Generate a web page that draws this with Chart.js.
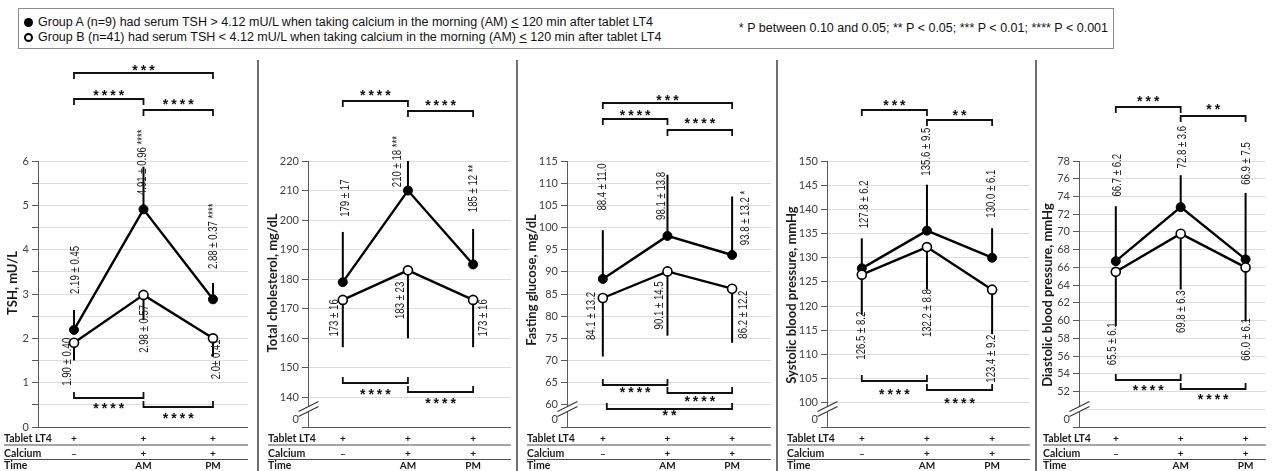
<!DOCTYPE html>
<html>
<head>
<meta charset="utf-8">
<script src="https://cdn.jsdelivr.net/npm/chart.js@4.4.1/dist/chart.umd.min.js"></script>
<style>
  body { margin: 0; width: 1272px; height: 471px; background: #fff; position: relative; overflow: hidden; font-family: "Liberation Sans", Arial, sans-serif; }
  #legend { position: absolute; left: 18px; top: 8px; width: 1096px; height: 41px; border: 1px solid #8c8c8c; box-sizing: border-box; color: #111; }
  #legend .g, #legend .key { position: absolute; font-size: 12.5px; line-height: 15px; white-space: nowrap; }
  #legend .g { left: 5px; }
  #legend .key { right: 5px; top: 12px; }
  .dot { display: inline-block; width: 9px; height: 9px; border-radius: 50%; box-sizing: border-box; margin-right: 5px; vertical-align: -1px; }
  .dot.fill { background: #000; }
  .dot.open { border: 2px solid #000; background: #fff; }
  .sep { position: absolute; top: 60px; height: 411px; width: 2px; background: #707070; z-index: 2; }
  canvas { position: absolute; top: 52px; }
</style>
</head>
<body>
<div id="legend">
  <div class="g" style="top:6px"><span class="dot fill"></span>Group A (n=9) had serum TSH &gt; 4.12 mU/L when taking calcium in the morning (AM) <u>&lt;</u> 120 min after tablet LT4</div>
  <div class="g" style="top:21px"><span class="dot open"></span>Group B (n=41) had serum TSH &lt; 4.12 mU/L when taking calcium in the morning (AM) <u>&lt;</u> 120 min after tablet LT4</div>
  <div class="key">* P between 0.10 and 0.05; ** P &lt; 0.05; *** P &lt; 0.01; **** P &lt; 0.001</div>
</div>
<div class="sep" style="left:257px"></div>
<div class="sep" style="left:516px"></div>
<div class="sep" style="left:776px"></div>
<div class="sep" style="left:1035px"></div>
<canvas id="p1" width="258" height="419" style="left:0px"></canvas>
<canvas id="p2" width="259" height="419" style="left:258px"></canvas>
<canvas id="p3" width="260" height="419" style="left:517px"></canvas>
<canvas id="p4" width="259" height="419" style="left:777px"></canvas>
<canvas id="p5" width="236" height="419" style="left:1036px"></canvas>
<script>
// table under each panel
const tableRows = ['Tablet LT4', 'Calcium', 'Time'];
const tabletLT4 = ['+', '+', '+'];
const calcium = ['\u2013', '+', '+'];
const times = ['', 'AM', 'PM'];

const yTitles = ['TSH, mU/L', 'Total cholesterol, mg/dL', 'Fasting glucose, mg/dL',
  'Systolic blood pressure, mmHg', 'Diastolic blood pressure, mmHg'];

// mean and SD, group A (filled) and group B (open)
const tshA = [2.19, 4.91, 2.88], tshSdA = [0.45, 0.96, 0.37];
const tshB = [1.90, 2.98, 2.0], tshSdB = [0.40, 0.57, 0.41];
const cholA = [179, 210, 185], cholSdA = [17, 18, 12];
const cholB = [173, 183, 173], cholSdB = [16, 23, 16];
const gluA = [88.4, 98.1, 93.8], gluSdA = [11.0, 13.8, 13.2];
const gluB = [84.1, 90.1, 86.2], gluSdB = [13.2, 14.5, 12.2];
const sbpA = [127.8, 135.6, 130.0], sbpSdA = [6.2, 9.5, 6.1];
const sbpB = [126.5, 132.2, 123.4], sbpSdB = [8.2, 8.8, 9.2];
const dbpA = [66.7, 72.8, 66.9], dbpSdA = [6.2, 3.6, 7.5];
const dbpB = [65.5, 69.8, 66.0], dbpSdB = [6.1, 6.3, 6.1];

// value labels as printed
const tshTxtA = ['2.19 \u00b1 0.45', '4.91 \u00b1 0.96 ****', '2.88 \u00b1 0.37 ****'];
const tshTxtB = ['1.90 \u00b1 0.40', '2.98 \u00b1 0.57', '2.0\u00b1 0.41'];
const cholTxtA = ['179 \u00b1 17', '210 \u00b1 18 ***', '185 \u00b1 12 **'];
const cholTxtB = ['173 \u00b1 16', '183 \u00b1 23', '173 \u00b1 16'];
const gluTxtA = ['88.4 \u00b1 11.0', '98.1 \u00b1 13.8', '93.8 \u00b1 13.2 *'];
const gluTxtB = ['84.1 \u00b1 13.2', '90.1 \u00b1 14.5', '86.2 \u00b1 12.2'];
const sbpTxtA = ['127.8 \u00b1 6.2', '135.6 \u00b1 9.5', '130.0 \u00b1 6.1'];
const sbpTxtB = ['126.5 \u00b1 8.2', '132.2 \u00b1 8.8', '123.4 \u00b1 9.2'];
const dbpTxtA = ['66.7 \u00b1 6.2', '72.8 \u00b1 3.6', '66.9 \u00b1 7.5'];
const dbpTxtB = ['65.5 \u00b1 6.1', '69.8 \u00b1 6.3', '66.0 \u00b1 6.1'];

// y axes: [min, max, step, first labelled tick, label step]
const tshAxis = [0, 6, 0.5, 0, 1];
const cholAxis = [130, 220, 10, 140, 10];
const gluAxis = [55, 115, 5, 60, 5];
const sbpAxis = [95, 150, 5, 100, 5];
const dbpAxis = [48, 78, 2, 52, 2];

// significance brackets [from, to, stars]
const tshTop = [[0, 2, '***'], [0, 1, '****'], [1, 2, '****']];
const tshBottom = [[0, 1, '****'], [1, 2, '****']];
const cholTop = [[0, 1, '****'], [1, 2, '****']];
const cholBottom = [[0, 1, '****'], [1, 2, '****']];
const gluTop = [[0, 2, '***'], [0, 1, '****'], [1, 2, '****']];
const gluBottom = [[0, 1, '****'], [1, 2, '****'], [0, 2, '**']];
const sbpTop = [[0, 1, '***'], [1, 2, '**']];
const sbpBottom = [[0, 1, '****'], [1, 2, '****']];
const dbpTop = [[0, 1, '***'], [1, 2, '**']];
const dbpBottom = [[0, 1, '****'], [1, 2, '****']];

const canvasTop = 52;

const panels = [
  { id: 'p1', left: 0, axisW: 38, padR: 10, xMin: -0.518, xMax: 2.504, broken: false, tableX: 4,
    title: yTitles[0], titlePos: [13, 283], axis: tshAxis,
    mA: tshA, sA: tshSdA, mB: tshB, sB: tshSdB, tA: tshTxtA, tB: tshTxtB,
    offA: [[2, -60], [-1, -47], [1, -63]], offB: [[-6, 19], [1, 34], [4, 21]],
    top: tshTop, topY: [[73, 68], [99, 93], [110, 102]],
    bottom: tshBottom, botY: [[398, 406], [407, 416]] },
  { id: 'p2', left: 258, axisW: 50, padR: 5, xMin: -0.534, xMax: 2.58, broken: true, tableX: 268,
    title: yTitles[1], titlePos: [273, 283], axis: cholAxis,
    mA: cholA, sA: cholSdA, mB: cholB, sB: cholSdB, tA: cholTxtA, tB: cholTxtB,
    offA: [[3, -84], [-10, -29], [1, -76]], offB: [[-8, 18], [-7, 30], [11, 18]],
    top: cholTop, topY: [[101, 93], [111, 103]],
    bottom: cholBottom, botY: [[383, 392], [392, 401]] },
  { id: 'p3', left: 517, axisW: 50, padR: 5, xMin: -0.554, xMax: 2.6, broken: true, tableX: 527,
    title: yTitles[2], titlePos: [532, 280], axis: gluAxis,
    mA: gluA, sA: gluSdA, mB: gluB, sB: gluSdB, tA: gluTxtA, tB: gluTxtB,
    offA: [[0, -92], [-6, -40], [14, -37]], offB: [[-11, 18], [-8, 34], [12, 26]],
    top: gluTop, topY: [[103, 98], [119, 113], [130, 121]],
    bottom: gluBottom, botY: [[385, 390], [393, 399], [409, 413]] },
  { id: 'p4', left: 777, axisW: 50, padR: 5, xMin: -0.534, xMax: 2.58, broken: true, tableX: 787,
    title: yTitles[3], titlePos: [792, 295], axis: sbpAxis,
    mA: sbpA, sA: sbpSdA, mB: sbpB, sB: sbpSdB, tA: sbpTxtA, tB: sbpTxtB,
    offA: [[3, -64], [0, -79], [0, -64]], offB: [[0, 61], [1, 66], [0, 69]],
    top: sbpTop, topY: [[110, 103], [120, 113]],
    bottom: sbpBottom, botY: [[381, 392], [390, 401]] },
  { id: 'p5', left: 1036, axisW: 43, padR: 0, xMin: -0.567, xMax: 2.313, broken: true, tableX: 1043,
    title: yTitles[4], titlePos: [1048, 295], axis: dbpAxis,
    mA: dbpA, sA: dbpSdA, mB: dbpB, sB: dbpSdB, tA: dbpTxtA, tB: dbpTxtB,
    offA: [[2, -86], [2, -60], [1, -96]], offB: [[-3, 72], [1, 78], [1, 72]],
    top: dbpTop, topY: [[107, 99], [116, 107]],
    bottom: dbpBottom, botY: [[380, 388], [389, 397]] }
];

function line(ctx, x1, y1, x2, y2) {
  ctx.beginPath(); ctx.moveTo(x1, y1); ctx.lineTo(x2, y2); ctx.stroke();
}

function stars(ctx, text, x, y) {
  ctx.save();
  ctx.font = 'bold 14px "Liberation Sans"';
  ctx.letterSpacing = '3px';
  ctx.textAlign = 'center';
  ctx.textBaseline = 'alphabetic';
  ctx.fillStyle = '#111';
  ctx.fillText(text, x + 1.5, y + 7);
  ctx.restore();
}

const annotations = {
  id: 'annotations',
  beforeDatasetsDraw(chart) {
    const p = chart.canvas.panel;
    const { ctx, chartArea: a, scales: { x, y } } = chart;
    ctx.save();
    ctx.beginPath();
    ctx.rect(a.left, a.top, a.right - a.left, a.bottom - a.top);
    ctx.clip();
    ctx.strokeStyle = '#000';
    ctx.lineWidth = 2;
    p.mA.forEach((m, i) => {
      const px = x.getPixelForValue(i);
      line(ctx, px, y.getPixelForValue(m), px, y.getPixelForValue(m + p.sA[i]));
    });
    p.mB.forEach((m, i) => {
      const px = x.getPixelForValue(i);
      line(ctx, px, y.getPixelForValue(m), px, y.getPixelForValue(m - p.sB[i]));
    });
    ctx.restore();
  },
  afterDraw(chart) {
    const p = chart.canvas.panel;
    const { ctx, chartArea: a, scales: { x, y } } = chart;
    const py = v => v - canvasTop;
    ctx.save();

    // bottom axis line
    ctx.strokeStyle = '#595959';
    ctx.lineWidth = 1;
    line(ctx, a.left, a.bottom + 0.5, a.right, a.bottom + 0.5);

    // axis title
    ctx.save();
    ctx.translate(p.titlePos[0] - p.left, py(p.titlePos[1]));
    ctx.rotate(-Math.PI / 2);
    ctx.font = 'bold 13px Lato';
    ctx.fillStyle = '#1a1a1a';
    ctx.textAlign = 'center';
    ctx.textBaseline = 'middle';
    ctx.fillText(p.title, 0, 0);
    ctx.restore();

    // axis break
    if (p.broken) {
      const bx = a.left + 0.5, by = a.bottom - 18;
      ctx.strokeStyle = '#fff';
      ctx.lineWidth = 5;
      line(ctx, bx - 10, by + 5, bx + 10, by - 5);
      ctx.strokeStyle = '#333';
      ctx.lineWidth = 1.2;
      line(ctx, bx - 10, by + 2.5, bx + 10, by - 7.5);
      line(ctx, bx - 10, by + 7.5, bx + 10, by - 2.5);
      ctx.fillStyle = '#404040';
      ctx.font = '11px Lato';
      ctx.textAlign = 'right';
      ctx.textBaseline = 'middle';
      ctx.fillText('0', a.left - 9, py(419));
    }

    // value labels, rotated and condensed
    ctx.font = '12px "Liberation Sans"';
    ctx.fillStyle = '#1a1a1a';
    ctx.textAlign = 'center';
    ctx.textBaseline = 'middle';
    const label = (txt, i, v, off) => {
      ctx.save();
      ctx.translate(x.getPixelForValue(i) + off[0], y.getPixelForValue(v) + off[1]);
      ctx.rotate(-Math.PI / 2);
      ctx.scale(0.8, 1);
      ctx.fillText(txt, 0, 0);
      ctx.restore();
    };
    p.tA.forEach((t, i) => label(t, i, p.mA[i], p.offA[i]));
    p.tB.forEach((t, i) => label(t, i, p.mB[i], p.offB[i]));

    // significance brackets
    ctx.strokeStyle = '#111';
    ctx.lineWidth = 1.8;
    p.top.forEach(([f, t, s], k) => {
      const x1 = x.getPixelForValue(f), x2 = x.getPixelForValue(t);
      const ly = py(p.topY[k][0]);
      ctx.beginPath();
      ctx.moveTo(x1, ly + 6); ctx.lineTo(x1, ly); ctx.lineTo(x2, ly); ctx.lineTo(x2, ly + 6);
      ctx.stroke();
      stars(ctx, s, (x1 + x2) / 2, py(p.topY[k][1]));
    });
    p.bottom.forEach(([f, t, s], k) => {
      const x1 = x.getPixelForValue(f) + (f === 0 && t === 2 ? 4 : 0), x2 = x.getPixelForValue(t);
      const ly = py(p.botY[k][0]);
      ctx.beginPath();
      ctx.moveTo(x1, ly - 6); ctx.lineTo(x1, ly); ctx.lineTo(x2, ly); ctx.lineTo(x2, ly - 6);
      ctx.stroke();
      stars(ctx, s, (x1 + x2) / 2, py(p.botY[k][1]));
    });

    // condition table
    const tx = p.tableX - p.left;
    const rowY = [439, 454, 466];
    ctx.strokeStyle = '#4d4d4d';
    ctx.lineWidth = 1.2;
    line(ctx, tx, py(445), a.right, py(445));
    line(ctx, tx, py(459.5), a.right, py(459.5));
    ctx.fillStyle = '#1a1a1a';
    ctx.textBaseline = 'middle';
    ctx.font = 'bold 10.5px Lato';
    ctx.textAlign = 'left';
    tableRows.forEach((r, k) => ctx.fillText(r, tx, py(rowY[k])));
    ctx.textAlign = 'center';
    ctx.font = 'bold 10px Lato';
    [tabletLT4, calcium, times].forEach((row, k) => {
      row.forEach((v, i) => ctx.fillText(v, x.getPixelForValue(i), py(rowY[k])));
    });
    ctx.restore();
  }
};

panels.forEach(p => {
  const canvas = document.getElementById(p.id);
  canvas.panel = p;
  const [yMin, yMax, yStep, labelFrom, labelStep] = p.axis;
  new Chart(canvas, {
    type: 'line',
    data: {
      datasets: [
        {
          label: 'Group B',
          data: p.mB.map((v, i) => ({ x: i, y: v })),
          borderColor: '#000',
          borderWidth: 2.4,
          pointRadius: 4.5,
          pointBackgroundColor: '#fff',
          pointBorderColor: '#000',
          pointBorderWidth: 1.6
        },
        {
          label: 'Group A',
          data: p.mA.map((v, i) => ({ x: i, y: v })),
          borderColor: '#000',
          borderWidth: 2.4,
          pointRadius: 4.5,
          pointBackgroundColor: '#000',
          pointBorderColor: '#000',
          pointBorderWidth: 1
        }
      ]
    },
    options: {
      responsive: false,
      animation: false,
      devicePixelRatio: 1,
      layout: { padding: { top: 109, bottom: 44, left: 0, right: p.padR } },
      plugins: { legend: { display: false }, tooltip: { enabled: false } },
      scales: {
        x: { type: 'linear', min: p.xMin, max: p.xMax, display: false },
        y: {
          min: yMin,
          max: yMax,
          afterFit: s => { s.width = p.axisW; },
          ticks: {
            stepSize: yStep,
            autoSkip: false,
            padding: 3,
            color: '#404040',
            font: { family: 'Lato', size: 11 },
            callback: v => {
              if (v < labelFrom - 1e-9) return '';
              const k = (v - labelFrom) / labelStep;
              return Math.abs(k - Math.round(k)) < 1e-6 ? String(v) : '';
            }
          },
          grid: { color: '#dcdcdc', tickColor: '#595959', tickLength: 6 },
          border: { color: '#595959', width: 1 },
          title: { display: false }
        }
      }
    },
    plugins: [annotations]
  });
});
</script>
</body>
</html>
